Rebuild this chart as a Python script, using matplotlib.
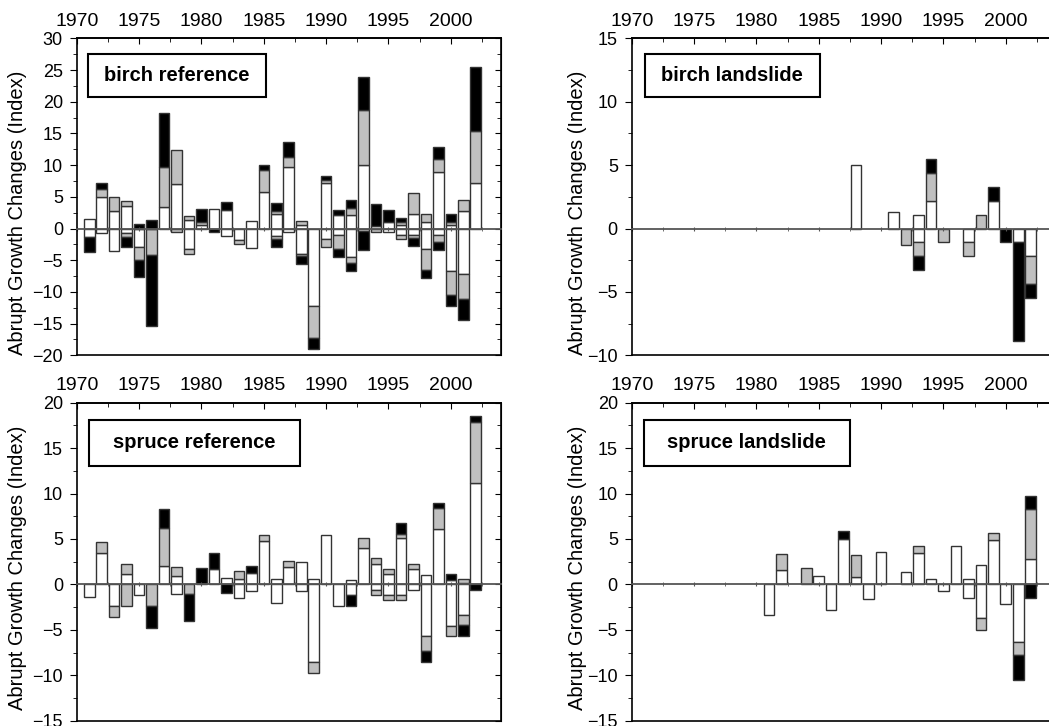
import matplotlib

matplotlib.use("Agg")
import matplotlib.pyplot as plt
from matplotlib.patches import Rectangle
from matplotlib.ticker import MultipleLocator, NullFormatter

plt.rcParams["font.family"] = ["Liberation Sans", "DejaVu Sans"]

# segment sizes per year: white / grey / black, stacked outwards from zero
# (negative parts stored as magnitudes)

# birch reference
birch_ref_years = list(range(1971, 2003))
birch_ref_pos_white = [1.5, 4.9, 2.8, 3.5, 0, 0, 3.45, 6.95, 1.35, 0.5, 3.1, 2.95, 0, 1.25, 5.8, 2.3,
                       9.75, 0.5, 0, 7.2, 2.15, 2.2, 10.0, 0.45, 1.05, 0.5, 2.25, 1.1, 8.85, 0.6, 2.8, 7.2]
birch_ref_pos_grey = [0, 1.4, 2.15, 0.8, 0, 0, 6.25, 5.45, 0.65, 0.55, 0, 0, 0, 0, 3.45, 0.5,
                      1.6, 0.65, 0, 0.45, 0, 1.0, 8.75, 0, 0, 0.55, 3.3, 1.15, 2.15, 0.45, 1.65, 8.2]
birch_ref_pos_black = [0, 0.85, 0, 0, 0.7, 1.35, 8.55, 0, 0, 2.0, 0, 1.3, 0, 0, 0.7, 1.25,
                       2.3, 0, 0, 0.7, 0.7, 1.3, 5.15, 3.45, 1.8, 0.55, 0, 0, 1.8, 1.2, 0, 10.15]
birch_ref_neg_white = [1.4, 0.7, 3.55, 0.7, 2.85, 0, 0, 0, 3.25, 0, 0, 1.2, 1.8, 3.0, 0, 1.15,
                       0.6, 4.0, 12.15, 1.7, 1.05, 4.45, 0.45, 0, 0.6, 1.05, 1.05, 3.25, 1.1, 6.65, 7.2, 0]
birch_ref_neg_grey = [0, 0, 0, 0.65, 2.05, 4.15, 0, 0.6, 0.75, 0, 0, 0, 0.6, 0, 0, 0.45,
                      0, 0.4, 5.1, 1.15, 2.15, 1.05, 0, 0.55, 0, 0.65, 0.4, 3.35, 1.05, 3.85, 3.85, 0]
birch_ref_neg_black = [2.3, 0, 0, 1.5, 2.8, 11.25, 0, 0, 0, 0, 0.6, 0, 0, 0, 0, 1.35,
                       0, 1.2, 1.7, 0, 1.3, 1.2, 2.9, 0, 0, 0, 1.35, 1.2, 1.2, 1.75, 3.4, 0]

# birch landslide
birch_ls_years = [1988, 1991, 1992, 1993, 1994, 1995, 1997, 1998, 1999, 2000, 2001, 2002]
birch_ls_pos_white = [5.0, 1.3, 0, 1.1, 2.2, 0, 0, 0, 2.2, 0, 0, 0]
birch_ls_pos_grey = [0, 0, 0, 0, 2.2, 0, 0, 1.1, 0, 0, 0, 0]
birch_ls_pos_black = [0, 0, 0, 0, 1.1, 0, 0, 0, 1.1, 0, 0, 0]
birch_ls_neg_white = [0, 0, 0, 1.1, 0, 0, 1.1, 0, 0, 0, 1.1, 2.2]
birch_ls_neg_grey = [0, 0, 1.3, 1.1, 0, 1.1, 1.1, 0, 0, 0, 0, 2.2]
birch_ls_neg_black = [0, 0, 0, 1.1, 0, 0, 0, 0, 0, 1.1, 7.8, 1.1]

# spruce reference
spruce_ref_years = list(range(1971, 2003))
spruce_ref_pos_white = [0, 3.5, 0, 1.15, 0, 0, 2.0, 0.95, 0, 0, 1.65, 0.75, 0.65, 1.3, 4.8, 0.6,
                        1.95, 2.5, 0.55, 5.45, 0, 0.5, 4.0, 2.25, 1.15, 5.1, 1.7, 1.05, 6.15, 0.45, 0.2, 11.2]
spruce_ref_pos_grey = [0, 1.2, 0, 1.15, 0, 0, 4.2, 1.0, 0, 0, 0, 0, 0.8, 0, 0.65, 0,
                       0.6, 0, 0, 0, 0, 0, 1.15, 0.65, 0.55, 0.5, 0.55, 0, 2.25, 0, 0.35, 6.7]
spruce_ref_pos_black = [0, 0, 0, 0, 0, 0, 2.15, 0, 0, 1.85, 1.8, 0, 0, 0.7, 0, 0,
                        0, 0, 0, 0, 0, 0, 0, 0, 0, 1.2, 0, 0, 0.6, 0.65, 0, 0.65]
spruce_ref_neg_white = [1.35, 0, 2.35, 0, 1.15, 0, 0, 1.05, 0, 0, 0, 0, 1.5, 0.75, 0, 2.05,
                        0, 0.7, 8.5, 0, 2.4, 1.15, 0, 0.65, 1.15, 1.15, 0.6, 5.7, 0, 4.55, 3.35, 0]
spruce_ref_neg_grey = [0, 0, 1.2, 2.4, 0, 2.35, 0, 0, 1.05, 0, 0, 0, 0, 0, 0, 0,
                       0, 0, 1.3, 0, 0, 0, 0, 0.5, 0.6, 0.6, 0, 1.65, 0, 1.15, 1.15, 0]
spruce_ref_neg_black = [0, 0, 0, 0, 0, 2.45, 0, 0, 3.0, 0, 0, 0.9, 0, 0, 0, 0,
                        0, 0, 0, 0, 0, 1.2, 0, 0, 0, 0, 0, 1.15, 0, 0, 1.2, 0.6]

# spruce landslide
spruce_ls_years = [1981, 1982, 1984, 1985, 1986, 1987, 1988, 1989, 1990, 1992, 1993,
                   1994, 1995, 1996, 1997, 1998, 1999, 2000, 2001, 2002]
spruce_ls_pos_white = [0, 1.6, 0, 0.9, 0, 4.95, 0.8, 0, 3.6, 1.35, 3.5, 0.65, 0, 4.2, 0.65, 2.1, 4.9, 0, 0, 2.75]
spruce_ls_pos_grey = [0, 1.7, 1.85, 0, 0, 0, 2.4, 0, 0, 0, 0.7, 0, 0, 0, 0, 0, 0.75, 0, 0, 5.55]
spruce_ls_pos_black = [0, 0, 0, 0, 0, 0.9, 0, 0, 0, 0, 0, 0, 0, 0, 0, 0, 0, 0, 0, 1.45]
spruce_ls_neg_white = [3.4, 0, 0, 0, 2.8, 0, 0, 1.55, 0, 0, 0, 0, 0.75, 0, 1.5, 3.65, 0, 2.15, 6.35, 0]
spruce_ls_neg_grey = [0, 0, 0, 0, 0, 0, 0, 0, 0, 0, 0, 0, 0, 0, 0, 1.4, 0, 0, 1.4, 0]
spruce_ls_neg_black = [0, 0, 0, 0, 0, 0, 0, 0, 0, 0, 0, 0, 0, 0, 0, 0, 0, 0, 2.8, 1.45]

FILLS = ["white", "#c0c0c0", "black"]
EDGE = "#333333"


def draw_panel(ax, years, pos, neg, ylim, title, box, label_x, label_y):
    pos_base = [0.0] * len(years)
    neg_base = [0.0] * len(years)
    for seg_pos, seg_neg, fill in zip(pos, neg, FILLS):
        for seg, base, sign in ((seg_pos, pos_base, 1), (seg_neg, neg_base, -1)):
            idx = [i for i, h in enumerate(seg) if h > 0]
            if idx:
                ax.bar([years[i] for i in idx], [sign * seg[i] for i in idx],
                       bottom=[sign * base[i] for i in idx], width=0.85,
                       color=fill, edgecolor=EDGE, linewidth=1.0)
            for i in idx:
                base[i] += seg[i]

    ax.set_xlim(1970, 2004)
    ax.set_ylim(*ylim)

    # zero line doubles as the bottom x axis
    ax.spines["bottom"].set_position(("data", 0))
    ax.spines["bottom"].set_color("#555555")
    ax.spines["bottom"].set_linewidth(1.3)
    ax.plot([0, 1], [0, 0], transform=ax.transAxes, color="black", lw=1.2, clip_on=False)
    for side in ("top", "left", "right"):
        ax.spines[side].set_linewidth(1.2)
    ax.xaxis.set_major_locator(MultipleLocator(5))
    ax.xaxis.set_minor_locator(MultipleLocator(2.5))
    ax.tick_params(axis="x", which="both", bottom=True, top=False, labelbottom=False,
                   direction="inout", length=3, color="#555555")

    secx = ax.secondary_xaxis("top")
    secx.xaxis.set_major_locator(MultipleLocator(5))
    secx.xaxis.set_minor_locator(MultipleLocator(2.5))
    secx.tick_params(which="both", direction="in", labelsize=14, pad=6)
    secx.tick_params(which="major", length=4)
    secx.tick_params(which="minor", length=3)
    secx.spines["top"].set_linewidth(1.2)

    ax.yaxis.set_major_locator(MultipleLocator(5))
    ax.yaxis.set_minor_locator(MultipleLocator(2.5))
    ax.tick_params(axis="y", which="both", left=True, right=False, direction="out",
                   labelsize=13, pad=5)
    ax.tick_params(axis="y", which="major", length=5)
    ax.tick_params(axis="y", which="minor", length=3)

    secy = ax.secondary_yaxis("right")
    secy.yaxis.set_major_locator(MultipleLocator(5))
    secy.yaxis.set_minor_locator(MultipleLocator(2.5))
    secy.yaxis.set_major_formatter(NullFormatter())
    secy.tick_params(which="both", direction="in")
    secy.tick_params(which="major", length=4)
    secy.tick_params(which="minor", length=3)

    ax.set_ylabel("Abrupt Growth Changes (Index)", fontsize=14.5)
    ax.yaxis.set_label_coords(label_x, label_y)

    x0, y0, x1, y1 = box
    ax.add_patch(Rectangle((x0, y0), x1 - x0, y1 - y0, transform=ax.transAxes,
                           facecolor="white", edgecolor="black", linewidth=1.5, zorder=5))
    ax.text((x0 + x1) / 2, (y0 + y1) / 2, title, transform=ax.transAxes, ha="center",
            va="center", fontsize=14.5, fontweight="bold", zorder=6)


fig = plt.figure(figsize=(10.49, 7.26), dpi=100)
ax_br = fig.add_axes([0.0732, 0.5106, 0.4041, 0.4366])
ax_bl = fig.add_axes([0.6022, 0.5106, 0.4041, 0.4366])
ax_sr = fig.add_axes([0.0732, 0.0073, 0.4041, 0.438])
ax_sl = fig.add_axes([0.6022, 0.0073, 0.4041, 0.438])

draw_panel(ax_br, birch_ref_years,
           [birch_ref_pos_white, birch_ref_pos_grey, birch_ref_pos_black],
           [birch_ref_neg_white, birch_ref_neg_grey, birch_ref_neg_black],
           (-20, 30), "birch reference", (0.026, 0.816, 0.446, 0.95), -0.118, 0.45)
draw_panel(ax_bl, birch_ls_years,
           [birch_ls_pos_white, birch_ls_pos_grey, birch_ls_pos_black],
           [birch_ls_neg_white, birch_ls_neg_grey, birch_ls_neg_black],
           (-10, 15), "birch landslide", (0.031, 0.816, 0.444, 0.95), -0.105, 0.45)
draw_panel(ax_sr, spruce_ref_years,
           [spruce_ref_pos_white, spruce_ref_pos_grey, spruce_ref_pos_black],
           [spruce_ref_neg_white, spruce_ref_neg_grey, spruce_ref_neg_black],
           (-15, 20), "spruce reference", (0.029, 0.802, 0.527, 0.946), -0.118, 0.48)
draw_panel(ax_sl, spruce_ls_years,
           [spruce_ls_pos_white, spruce_ls_pos_grey, spruce_ls_pos_black],
           [spruce_ls_neg_white, spruce_ls_neg_grey, spruce_ls_neg_black],
           (-15, 20), "spruce landslide", (0.028, 0.802, 0.515, 0.946), -0.105, 0.48)

fig.savefig("out.png", dpi=100)
plt.close(fig)
